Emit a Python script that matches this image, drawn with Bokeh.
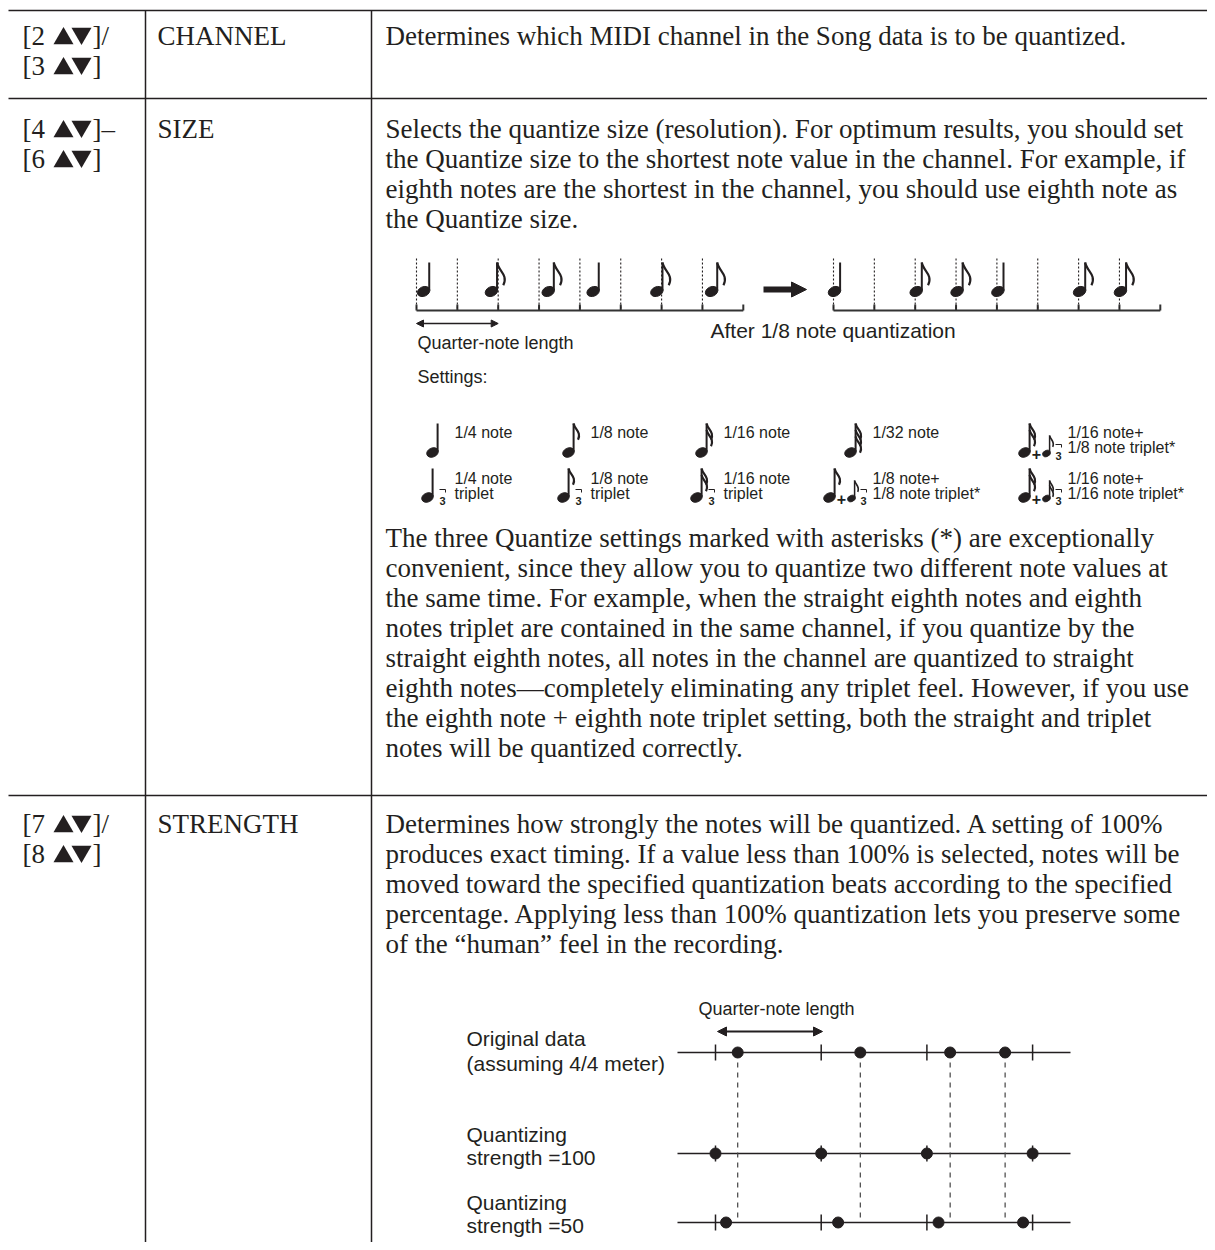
import numpy as np
from bokeh.plotting import figure
from bokeh.models import Range1d, Arrow, NormalHead
from bokeh.embed import file_html
from bokeh.resources import INLINE
from bokeh.core.properties import value

# ---------------- data ----------------
keys = [["[2 ▲▼]/", "[3 ▲▼]"], ["[4 ▲▼]–", "[6 ▲▼]"], ["[7 ▲▼]/", "[8 ▲▼]"]]
names = ["CHANNEL", "SIZE", "STRENGTH"]
channel_text = ["Determines which MIDI channel in the Song data is to be quantized."]
size_text = [
    "Selects the quantize size (resolution). For optimum results, you should set",
    "the Quantize size to the shortest note value in the channel. For example, if",
    "eighth notes are the shortest in the channel, you should use eighth note as",
    "the Quantize size.",
]
size_text2 = [
    "The three Quantize settings marked with asterisks (*) are exceptionally",
    "convenient, since they allow you to quantize two different note values at",
    "the same time. For example, when the straight eighth notes and eighth",
    "notes triplet are contained in the same channel, if you quantize by the",
    "straight eighth notes, all notes in the channel are quantized to straight",
    "eighth notes\u2014completely eliminating any triplet feel. However, if you use",
    "the eighth note + eighth note triplet setting, both the straight and triplet",
    "notes will be quantized correctly.",
]
strength_text = [
    "Determines how strongly the notes will be quantized. A setting of 100%",
    "produces exact timing. If a value less than 100% is selected, notes will be",
    "moved toward the specified quantization beats according to the specified",
    "percentage. Applying less than 100% quantization lets you preserve some",
    "of the \u201chuman\u201d feel in the recording.",
]

# note diagram (positions in eighth-note grid units)
grid_divisions = 8
note_flags = [0, 1, 1, 0, 1, 1]          # 0 = quarter, 1 = eighth
original_positions = [0.15, 1.81, 3.2, 4.3, 5.86, 7.2]
quantized_positions = [0, 2, 3, 4, 6, 7]
quarter_span = 2
diagram_labels = ["Quarter-note length", "After 1/8 note quantization", "Settings:"]

# quantize settings
setting_labels = [
    ["1/4 note"], ["1/8 note"], ["1/16 note"], ["1/32 note"], ["1/16 note+", "1/8 note triplet*"],
    ["1/4 note", "triplet"], ["1/8 note", "triplet"], ["1/16 note", "triplet"],
    ["1/8 note+", "1/8 note triplet*"], ["1/16 note+", "1/16 note triplet*"],
]
setting_flags = [0, 1, 2, 3, 2, 0, 1, 2, 1, 2]
setting_kind = ["single", "single", "single", "single", "combo",
                "triplet", "triplet", "triplet", "combo", "combo"]
setting_combo_flags = [0, 0, 0, 0, 1, 0, 0, 0, 1, 2]

# strength diagram (positions in quarter-note beats)
beat_ticks = [0, 1, 2, 3]
original_beats = [0.21, 1.37, 2.22, 2.74]
strength100_beats = [0, 1, 2, 3]
strength50_beats = [0.10, 1.16, 2.11, 2.91]
strength_rows = [["Original data", "(assuming 4/4 meter)"],
                 ["Quantizing", "strength =100"],
                 ["Quantizing", "strength =50"]]
strength_arrow_label = "Quarter-note length"

# ---------------- figure ----------------
W, H = 1207, 1242
p = figure(width=W, height=H, x_range=Range1d(0, W), y_range=Range1d(H, 0),
           output_backend="svg", toolbar_location=None, min_border=0)
p.axis.visible = False
p.grid.visible = False
p.outline_line_color = None
p.background_fill_color = "white"
p.border_fill_color = "white"

INK = "#231f20"
SERIF = value("Liberation Serif")
SANS = value("Liberation Sans")


def txt(xs, ys, texts, size, font=SERIF, align="left", style="normal"):
    p.text(x=xs, y=ys, text=texts, text_font=font, text_font_size=size,
           text_color=INK, text_align=align, text_baseline="middle",
           text_font_style=style)


# ---------------- table ----------------
COL_X = [22, 157, 385]
RULES_Y = [10, 98, 795]
VLINES_X = [145, 371]
SERIF_SIZE = "27px"
LEAD = 30

p.segment(x0=[8] * 3, x1=[W] * 3, y0=RULES_Y, y1=RULES_Y, line_color=INK, line_width=1.5)
p.segment(x0=VLINES_X, x1=VLINES_X, y0=[10, 10], y1=[H, H], line_color=INK, line_width=1.5)

row_first = [35, 128, 823]
TRI = "▲▼"
pre_x, pre_y, pre_t, suf_x, suf_y, suf_t = [], [], [], [], [], []
for r in range(3):
    y0 = row_first[r]
    for k, key in enumerate(keys[r]):
        pre, suf = key.split(TRI)
        pre_x.append(COL_X[0]); pre_y.append(y0 + LEAD * k); pre_t.append(pre)
        suf_x.append(COL_X[0] + 70); suf_y.append(y0 + LEAD * k); suf_t.append(suf)
    txt([COL_X[1]], [y0], [names[r]], SERIF_SIZE)
txt(pre_x, pre_y, pre_t, SERIF_SIZE)
txt(suf_x, suf_y, suf_t, SERIF_SIZE)
ky = np.asarray(pre_y, float)
p.scatter(x=[COL_X[0] + 41] * len(ky), y=ky + 3.0, marker="triangle", size=20,
          fill_color=INK, line_color=None)
p.scatter(x=[COL_X[0] + 59] * len(ky), y=ky - 2.0, marker="inverted_triangle", size=20,
          fill_color=INK, line_color=None)

txt([COL_X[2]], [row_first[0]], channel_text, SERIF_SIZE)
txt([COL_X[2]] * len(size_text), [row_first[1] + LEAD * i for i in range(len(size_text))], size_text, SERIF_SIZE)
P2_Y = 537
txt([COL_X[2]] * len(size_text2), [P2_Y + LEAD * i for i in range(len(size_text2))], size_text2, SERIF_SIZE)
txt([COL_X[2]] * len(strength_text), [row_first[2] + LEAD * i for i in range(len(strength_text))], strength_text, SERIF_SIZE)


# ---------------- note drawing helpers ----------------
def draw_notes(hx, hy, nflags, hw, hh, stem, flag_len, flag_gap, lw):
    hx = np.asarray(hx, float)
    hy = np.asarray(hy, float)
    p.ellipse(x=hx, y=hy, width=hw, height=hh, angle=0.42, fill_color=INK, line_color=INK)
    sx = hx + hw / 2 - 0.9
    p.segment(x0=sx, y0=hy - 1, x1=sx, y1=hy - stem, line_color=INK, line_width=lw)
    bx0, by0, bx1, by1, c0x, c0y, c1x, c1y = [], [], [], [], [], [], [], []
    for x, y, n in zip(sx, hy, nflags):
        for k in range(n):
            top = y - stem + k * flag_gap
            L = flag_len
            bx0.append(x); by0.append(top)
            c0x.append(x + 0.05 * L); c0y.append(top + 0.35 * L)
            c1x.append(x + 0.48 * L); c1y.append(top + 0.5 * L)
            bx1.append(x + 0.26 * L); by1.append(top + 0.95 * L)
    if bx0:
        p.bezier(x0=bx0, y0=by0, x1=bx1, y1=by1, cx0=c0x, cy0=c0y, cx1=c1x, cy1=c1y,
                 line_color=INK, line_width=lw * 1.1)


# ---------------- note diagram ----------------
UNIT = 40.85
RULER_Y = 310
for x0, positions in [(416, original_positions), (833, quantized_positions)]:
    grid = x0 + UNIT * np.arange(grid_divisions + 1)
    p.segment(x0=[x0], x1=[grid[-1]], y0=[RULER_Y], y1=[RULER_Y], line_color="#333", line_width=2.2)
    p.segment(x0=grid, x1=grid, y0=[RULER_Y] * len(grid), y1=[RULER_Y - 6] * len(grid),
              line_color="#333", line_width=2)
    p.segment(x0=grid[:-1], x1=grid[:-1], y0=[258] * grid_divisions, y1=[RULER_Y] * grid_divisions,
              line_color=INK, line_width=1.1, line_dash="2 2")
    draw_notes(x0 + UNIT * np.asarray(positions) + 1, [291] * len(positions), note_flags,
               hw=13, hh=9.5, stem=29, flag_len=24, flag_gap=7, lw=2)

p.add_layout(Arrow(x_start=416, y_start=323, x_end=416 + UNIT * quarter_span, y_end=323,
                   start=NormalHead(size=7, fill_color=INK, line_color=INK),
                   end=NormalHead(size=7, fill_color=INK, line_color=INK),
                   line_color=INK, line_width=1.3))
p.add_layout(Arrow(x_start=763, y_start=289, x_end=806, y_end=289,
                   end=NormalHead(size=15, fill_color=INK, line_color=INK),
                   line_color=INK, line_width=6))
txt([417], [342], [diagram_labels[0]], "18px", SANS)
txt([710], [330], [diagram_labels[1]], "21px", SANS)
txt([417], [376], [diagram_labels[2]], "18px", SANS)

# ---------------- quantize settings ----------------
LABEL_X = [454, 590, 723, 872, 1067]
ROW_HEAD_Y = [452, 497]
ROW_LABEL_Y = [432, 478]
single_x, single_y, single_f = [], [], []
small_x, small_y, small_f = [], [], []
threes_x, threes_y, plus_x, plus_y = [], [], [], []
for i, lab in enumerate(setting_labels):
    r, c = divmod(i, 5)
    lx = LABEL_X[c]
    hy = ROW_HEAD_Y[r]
    txt([lx] * len(lab), [ROW_LABEL_Y[r] + 15 * k for k in range(len(lab))], lab, "16px", SANS)
    kind = setting_kind[i]
    if kind == "single":
        single_x.append(lx - 22)
    elif kind == "triplet":
        single_x.append(lx - 27)
        threes_x.append(lx - 12); threes_y.append(hy + 3)
    else:
        single_x.append(lx - 43)
        plus_x.append(lx - 31); plus_y.append(hy + 1)
        small_x.append(lx - 21); small_y.append(hy + 1); small_f.append(setting_combo_flags[i])
        threes_x.append(lx - 9); threes_y.append(hy + 3)
    single_y.append(hy)
    single_f.append(setting_flags[i])

draw_notes(single_x, single_y, single_f, hw=12, hh=9, stem=29, flag_len=17, flag_gap=6.5, lw=2)
draw_notes(small_x, small_y, small_f, hw=8, hh=6, stem=18, flag_len=12, flag_gap=5, lw=1.5)
txt(threes_x, threes_y, ["3"] * len(threes_x), "11px", SANS, align="center", style="bold")
tx = np.asarray(threes_x)
ty = np.asarray(threes_y)
p.segment(x0=tx - 3, x1=tx + 3, y0=ty - 11, y1=ty - 11, line_color=INK, line_width=1)
p.segment(x0=tx + 3, x1=tx + 3, y0=ty - 11, y1=ty - 8, line_color=INK, line_width=1)
txt(plus_x, plus_y, ["+"] * len(plus_x), "16px", SANS, align="center", style="bold")

# ---------------- strength diagram ----------------
B0, BU = 715, 105.7
LINE_Y = [1052, 1153, 1222]
LINE_X0, LINE_X1 = 677, 1070
bt = B0 + BU * np.asarray(beat_ticks)
p.segment(x0=[LINE_X0] * 3, x1=[LINE_X1] * 3, y0=LINE_Y, y1=LINE_Y, line_color=INK, line_width=1.5)
for ly in LINE_Y:
    p.segment(x0=bt, x1=bt, y0=[ly - 8] * len(bt), y1=[ly + 8] * len(bt), line_color=INK, line_width=1.5)
ox = B0 + BU * np.asarray(original_beats)
p.segment(x0=ox, x1=ox, y0=[LINE_Y[0]] * len(ox), y1=[1217] * len(ox),
          line_color="#444", line_width=1.2, line_dash="5 5")
for beats, ly in [(original_beats, LINE_Y[0]), (strength100_beats, LINE_Y[1]), (strength50_beats, LINE_Y[2])]:
    p.scatter(x=B0 + BU * np.asarray(beats), y=[ly] * len(beats), size=11,
              fill_color=INK, line_color=INK)
p.add_layout(Arrow(x_start=717, y_start=1031, x_end=822, y_end=1031,
                   start=NormalHead(size=9, fill_color=INK, line_color=INK),
                   end=NormalHead(size=9, fill_color=INK, line_color=INK),
                   line_color=INK, line_width=2))
txt([698], [1008], [strength_arrow_label], "18px", SANS)
label_y = [(1038, 1063), (1134, 1157), (1202, 1225)]
for lines, ys in zip(strength_rows, label_y):
    txt([466, 466], list(ys), lines, "21px", SANS)

open("out.html", "w").write(file_html(p, INLINE))
